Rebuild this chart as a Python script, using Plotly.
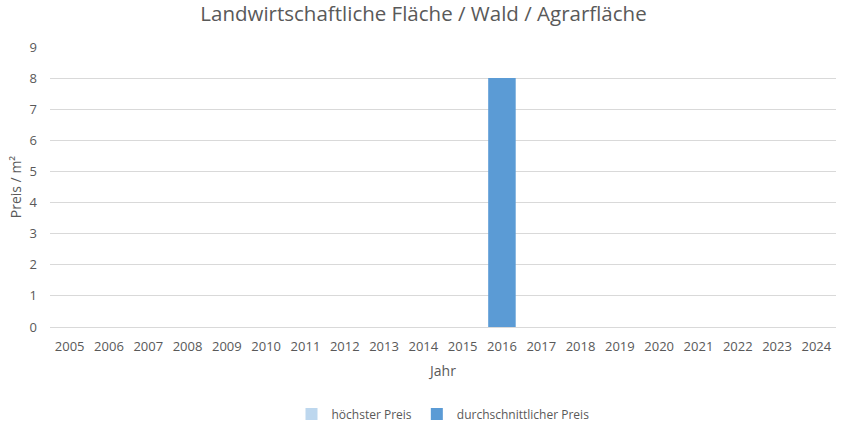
import plotly.graph_objects as go

years = [str(y) for y in range(2005, 2025)]
hoechster = [0] * 20
durchschnitt = [0] * 20
durchschnitt[years.index("2016")] = 8

font = "Open Sans"
col = "#595959"

fig = go.Figure()
fig.add_trace(go.Bar(x=years, y=hoechster, name="höchster Preis",
                     marker=dict(color="#BDD7EE", line=dict(width=0)), width=0.7))
fig.add_trace(go.Bar(x=years, y=durchschnitt, name="durchschnittlicher Preis",
                     marker=dict(color="#5B9BD5", line=dict(width=0)), width=0.7))

fig.update_layout(
    width=847, height=430,
    margin=dict(l=50, r=11, t=47, b=103, autoexpand=False),
    paper_bgcolor="white", plot_bgcolor="white",
    barmode="overlay",
    font=dict(family=font, color=col, size=13),
    title=dict(text="Landwirtschaftliche Fläche / Wald / Agrarfläche",
               x=0.5, xanchor="center", y=0.967, yanchor="middle",
               font=dict(family=font, size=20.5, color=col)),
    xaxis=dict(type="category", showgrid=False, showline=False, ticks="",
               ticklabelstandoff=10,
               tickfont=dict(size=13, color=col),
               title=dict(text="Jahr", font=dict(size=14, color=col), standoff=12)),
    yaxis=dict(range=[0, 9], dtick=1, showgrid=True, gridcolor="#D9D9D9", gridwidth=1,
               zeroline=True, zerolinecolor="#D9D9D9", zerolinewidth=1,
               showline=False, ticks="", ticklabelstandoff=12,
               tickfont=dict(size=13, color=col),
               title=dict(text="Preis / m²", font=dict(size=14, color=col), standoff=4)),
    legend=dict(orientation="h", x=0.5, xanchor="center", yref="container",
                y=0.037, yanchor="middle",
                font=dict(size=12, color=col), itemwidth=30, traceorder="normal"),
    bargap=0.3,
)

fig.write_html("out.html")
